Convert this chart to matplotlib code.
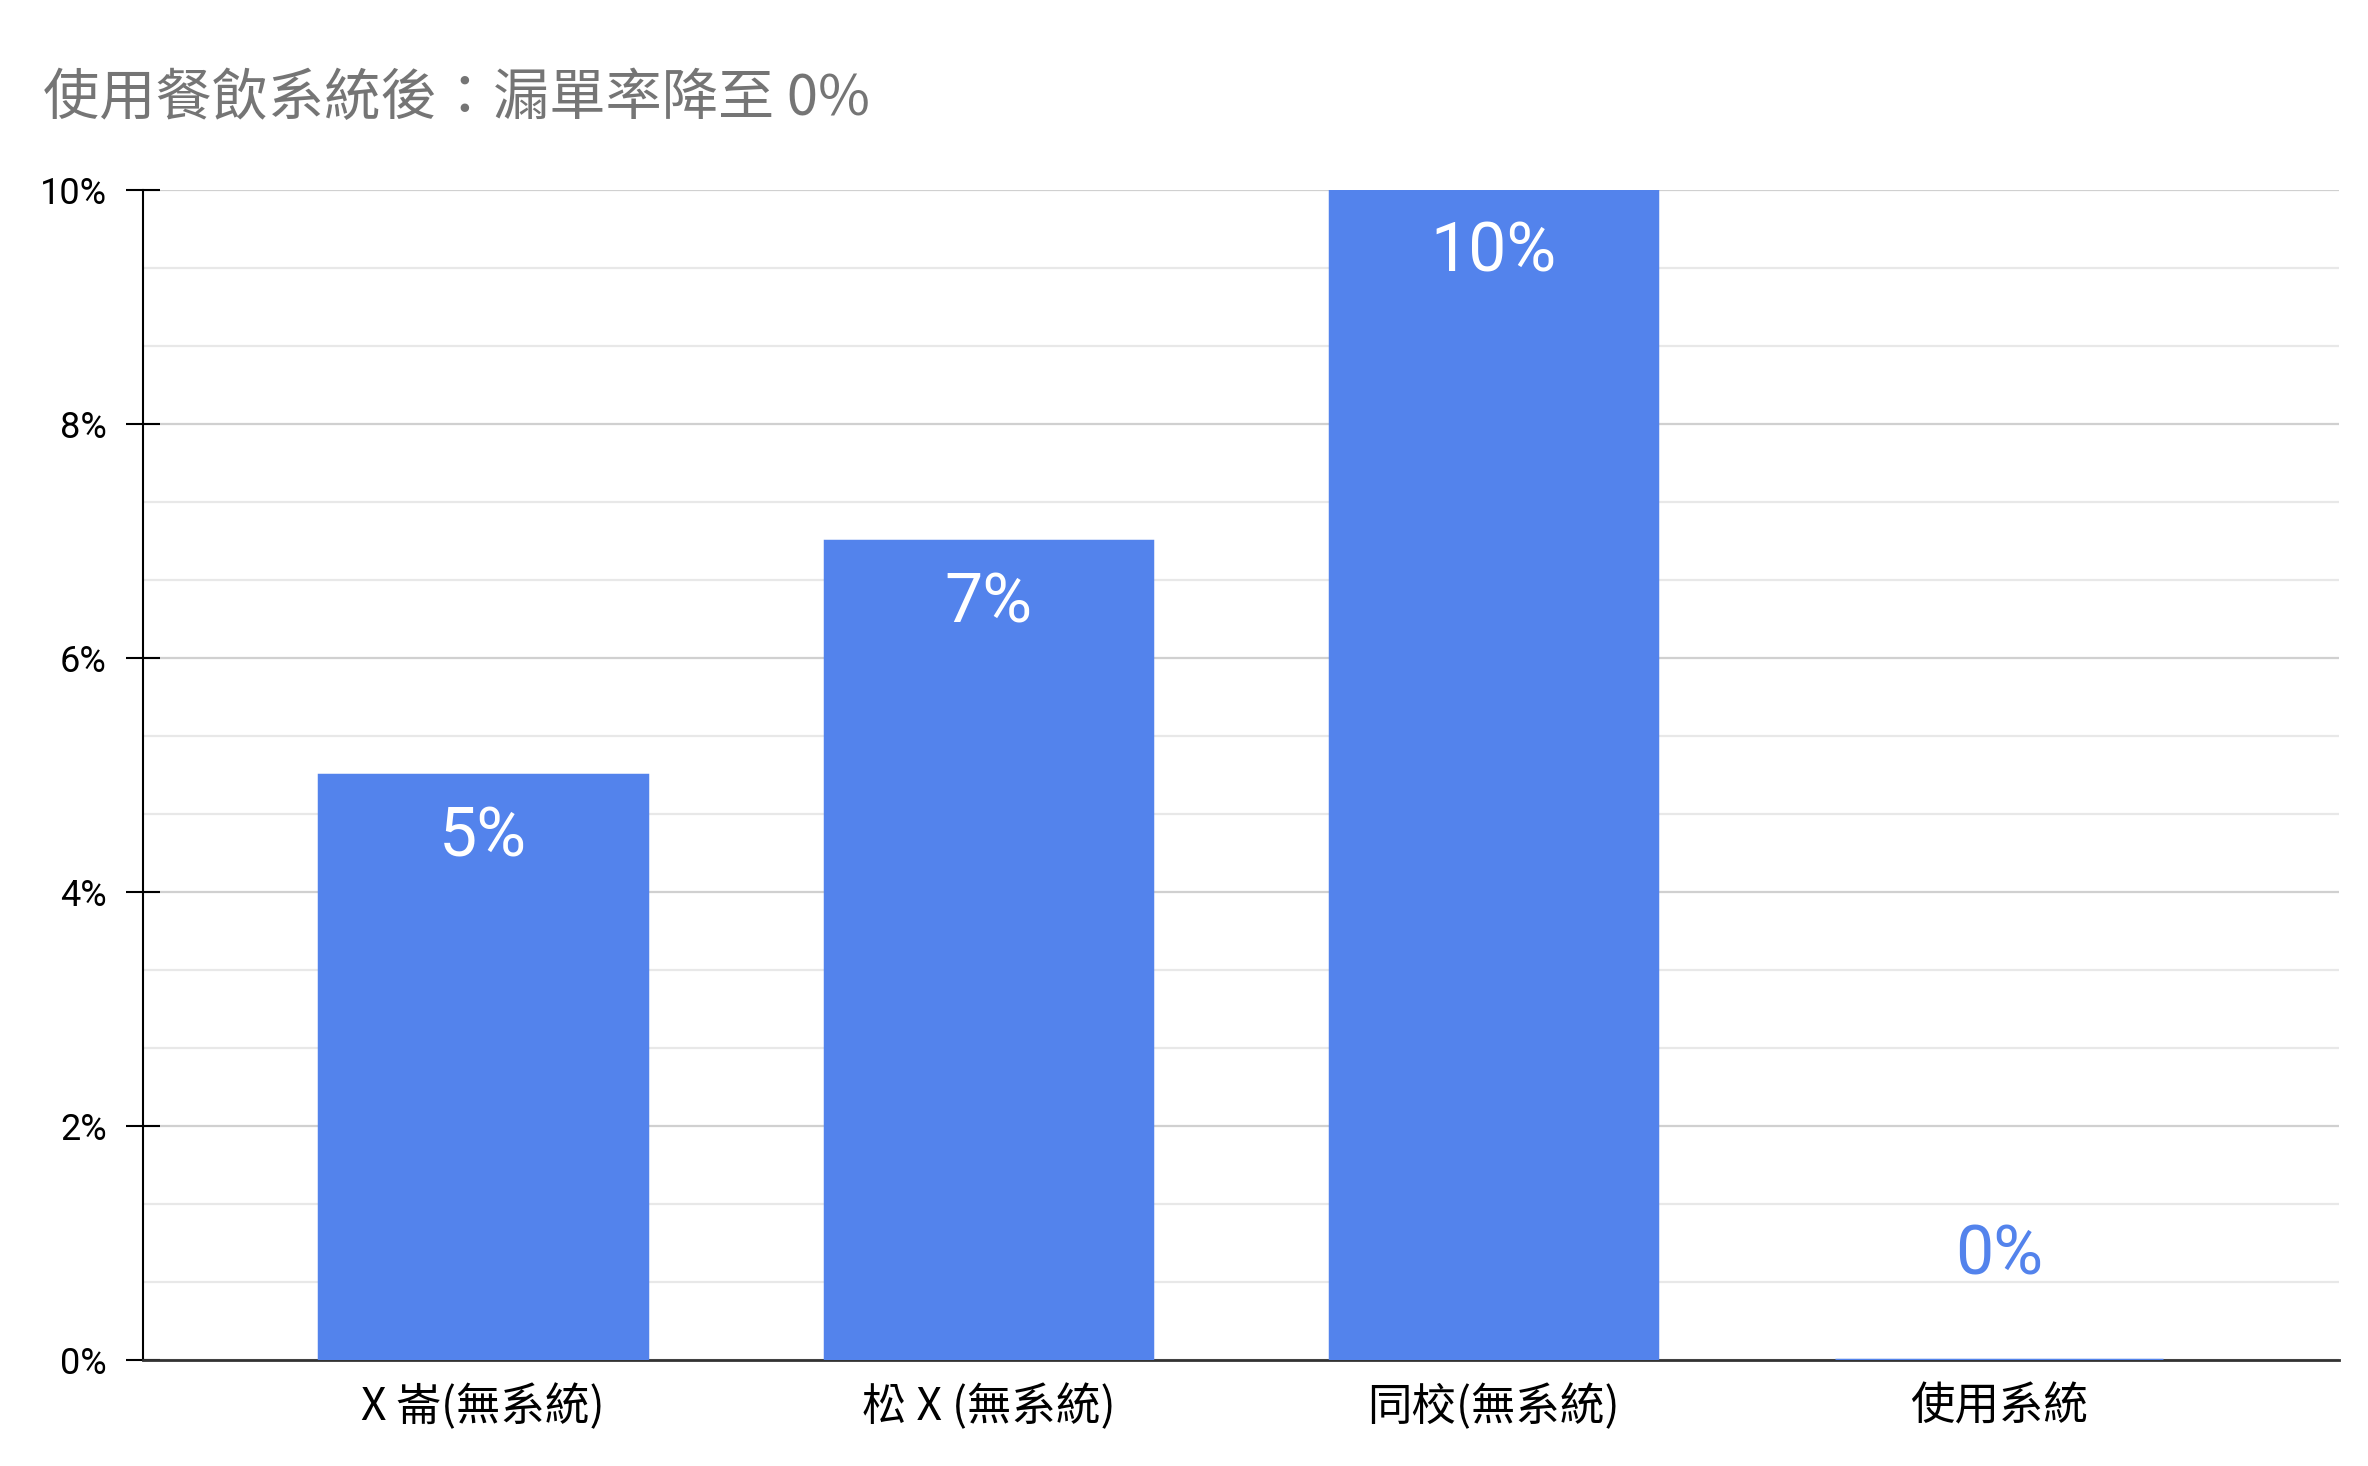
import matplotlib
matplotlib.use("Agg")
import matplotlib.pyplot as plt
from matplotlib.ticker import MultipleLocator, AutoMinorLocator, FuncFormatter

categories = ["X 崙(無系統)", "松 X (無系統)", "同校(無系統)", "使用系統"]
miss_rate = [5, 7, 10, 0]
title = "使用餐飲系統後：漏單率降至 0%"

BAR_COLOR = "#5383EC"
CJK = ["Noto Sans CJK TC", "DejaVu Sans"]

fig = plt.figure(figsize=(23.68, 14.66), dpi=100)
ax = fig.add_axes([0.0604, 0.0723, 0.9274, 0.7981])

x = range(len(categories))
ax.bar(x, miss_rate, width=0.648, color=BAR_COLOR, edgecolor=BAR_COLOR,
       linewidth=2.5, zorder=3)

for xi, v in zip(x, miss_rate):
    if v >= 1:
        ax.text(xi, v - 0.70, f"{v}%", ha="center", va="baseline",
                color="white", fontsize=49, family="Roboto", zorder=4)
    else:
        # too small to hold the label, so it goes above the bar
        ax.text(xi, v + 0.73, f"{v}%", ha="center", va="baseline",
                color=BAR_COLOR, fontsize=49, family="Roboto", zorder=4)

ax.set_xlim(-0.673, len(categories) - 1 + 0.673)
ax.set_ylim(0, 10)
ax.yaxis.set_major_locator(MultipleLocator(2))
ax.yaxis.set_minor_locator(AutoMinorLocator(3))
ax.yaxis.set_major_formatter(FuncFormatter(lambda v, _: f"{v:.0f}%"))

ax.grid(axis="y", which="major", color="#d0d0d0", linewidth=1.6, zorder=0)
ax.grid(axis="y", which="minor", color="#e8e8e8", linewidth=1.6, zorder=0)
ax.set_axisbelow(True)

ax.set_xticks(list(x))
ax.set_xticklabels(categories, family=CJK, fontsize=32, color="black")
ax.tick_params(axis="x", length=0, pad=17)
ax.tick_params(axis="y", which="major", direction="inout", length=24,
               width=1.5, pad=14, labelsize=26, colors="black")
ax.tick_params(axis="y", which="minor", length=0)
for lab in ax.get_yticklabels():
    lab.set_family("Roboto")

for side in ("top", "right"):
    ax.spines[side].set_visible(False)
ax.spines["left"].set_linewidth(1.5)
ax.spines["bottom"].set_linewidth(2)
ax.spines["bottom"].set_color("#333333")

fig.text(0.018, 0.9216, title, ha="left", va="baseline", fontsize=40.5,
         color="#757575", family=CJK)

fig.savefig("out.png", dpi=100)
